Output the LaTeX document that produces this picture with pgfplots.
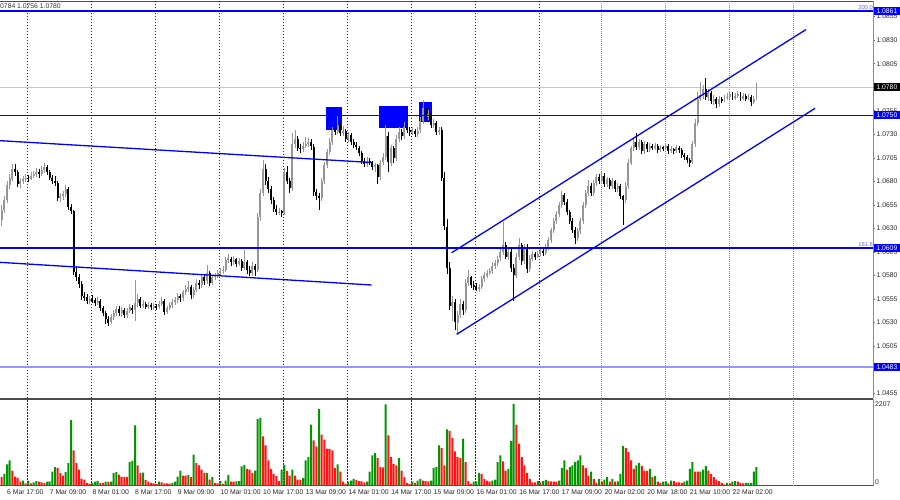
\documentclass[border=0pt]{standalone}
\usepackage{pgfplots}
\pgfplotsset{compat=1.18}
\usepackage{pgfplotstable}
\usepackage{fontspec}
\setmainfont{Liberation Sans}
\definecolor{bullc}{RGB}{150,150,150}
\definecolor{volg}{RGB}{0,150,0}
\definecolor{volr}{RGB}{255,20,20}
\definecolor{lvl}{RGB}{0,0,255}
\definecolor{lvll}{RGB}{150,150,255}
\definecolor{fibo}{RGB}{100,100,255}
\newcommand\tf{\fontsize{6.8}{7.5}\selectfont}

\pgfplotstableread{
i o h l c
0 1.0639 1.0655 1.0632 1.0650
1 1.0650 1.0664 1.0646 1.0660
2 1.0660 1.0680 1.0657 1.0676
3 1.0676 1.0688 1.0672 1.0683
4 1.0683 1.0698 1.0680 1.0693
5 1.0693 1.0699 1.0686 1.0690
6 1.0690 1.0692 1.0674 1.0677
7 1.0677 1.0684 1.0673 1.0680
8 1.0680 1.0686 1.0677 1.0682
9 1.0682 1.0688 1.0679 1.0684
10 1.0684 1.0687 1.0679 1.0683
11 1.0683 1.0690 1.0681 1.0686
12 1.0686 1.0691 1.0683 1.0688
13 1.0688 1.0694 1.0685 1.0690
14 1.0690 1.0693 1.0684 1.0688
15 1.0688 1.0696 1.0686 1.0692
16 1.0692 1.0699 1.0689 1.0695
17 1.0695 1.0697 1.0687 1.0690
18 1.0690 1.0692 1.0681 1.0684
19 1.0684 1.0687 1.0677 1.0680
20 1.0680 1.0686 1.0675 1.0678
21 1.0678 1.0680 1.0659 1.0662
22 1.0662 1.0668 1.0658 1.0664
23 1.0664 1.0670 1.0660 1.0667
24 1.0667 1.0676 1.0663 1.0672
25 1.0672 1.0674 1.0650 1.0653
26 1.0653 1.0656 1.0645 1.0648
27 1.0648 1.0650 1.0580 1.0584
28 1.0584 1.0590 1.0574 1.0578
29 1.0578 1.0582 1.0567 1.0571
30 1.0571 1.0574 1.0554 1.0558
31 1.0558 1.0562 1.0553 1.0557
32 1.0557 1.0560 1.0550 1.0553
33 1.0553 1.0558 1.0550 1.0555
34 1.0555 1.0559 1.0551 1.0554
35 1.0554 1.0556 1.0548 1.0551
36 1.0551 1.0557 1.0549 1.0553
37 1.0553 1.0555 1.0542 1.0545
38 1.0545 1.0547 1.0537 1.0540
39 1.0540 1.0542 1.0528 1.0534
40 1.0534 1.0537 1.0526 1.0530
41 1.0530 1.0539 1.0528 1.0536
42 1.0536 1.0543 1.0533 1.0540
43 1.0540 1.0548 1.0537 1.0544
44 1.0544 1.0547 1.0537 1.0540
45 1.0540 1.0546 1.0536 1.0543
46 1.0543 1.0545 1.0535 1.0538
47 1.0538 1.0545 1.0535 1.0542
48 1.0542 1.0550 1.0540 1.0546
49 1.0546 1.0549 1.0539 1.0543
50 1.0543 1.0575 1.0532 1.0551
51 1.0551 1.0560 1.0546 1.0555
52 1.0555 1.0557 1.0545 1.0548
53 1.0548 1.0554 1.0545 1.0550
54 1.0550 1.0552 1.0544 1.0547
55 1.0547 1.0552 1.0544 1.0549
56 1.0549 1.0551 1.0543 1.0546
57 1.0546 1.0551 1.0543 1.0548
58 1.0548 1.0550 1.0543 1.0546
59 1.0546 1.0553 1.0544 1.0550
60 1.0550 1.0557 1.0548 1.0553
61 1.0553 1.0555 1.0538 1.0541
62 1.0541 1.0548 1.0539 1.0545
63 1.0545 1.0552 1.0543 1.0549
64 1.0549 1.0555 1.0546 1.0552
65 1.0552 1.0557 1.0549 1.0554
66 1.0554 1.0561 1.0551 1.0558
67 1.0558 1.0560 1.0552 1.0556
68 1.0556 1.0565 1.0553 1.0562
69 1.0562 1.0570 1.0559 1.0566
70 1.0566 1.0574 1.0563 1.0568
71 1.0568 1.0570 1.0555 1.0559
72 1.0559 1.0568 1.0556 1.0565
73 1.0565 1.0576 1.0562 1.0572
74 1.0572 1.0575 1.0566 1.0570
75 1.0570 1.0582 1.0567 1.0578
76 1.0578 1.0580 1.0570 1.0574
77 1.0574 1.0591 1.0571 1.0583
78 1.0583 1.0585 1.0569 1.0572
79 1.0572 1.0581 1.0570 1.0578
80 1.0578 1.0583 1.0575 1.0580
81 1.0580 1.0586 1.0577 1.0583
82 1.0583 1.0588 1.0580 1.0585
83 1.0585 1.0590 1.0582 1.0586
84 1.0586 1.0600 1.0584 1.0596
85 1.0596 1.0603 1.0593 1.0598
86 1.0598 1.0600 1.0590 1.0594
87 1.0594 1.0601 1.0591 1.0597
88 1.0597 1.0599 1.0589 1.0592
89 1.0592 1.0599 1.0590 1.0595
90 1.0595 1.0597 1.0585 1.0588
91 1.0588 1.0607 1.0586 1.0594
92 1.0594 1.0596 1.0582 1.0586
93 1.0586 1.0590 1.0579 1.0583
94 1.0583 1.0594 1.0580 1.0590
95 1.0590 1.0592 1.0579 1.0586
96 1.0586 1.0646 1.0584 1.0642
97 1.0642 1.0672 1.0638 1.0668
98 1.0668 1.0703 1.0664 1.0693
99 1.0693 1.0698 1.0676 1.0680
100 1.0680 1.0685 1.0668 1.0672
101 1.0672 1.0675 1.0656 1.0660
102 1.0660 1.0663 1.0647 1.0651
103 1.0651 1.0655 1.0644 1.0647
104 1.0647 1.0652 1.0644 1.0648
105 1.0648 1.0650 1.0642 1.0646
106 1.0646 1.0694 1.0644 1.0690
107 1.0690 1.0696 1.0677 1.0680
108 1.0680 1.0684 1.0668 1.0673
109 1.0673 1.0731 1.0670 1.0720
110 1.0720 1.0735 1.0716 1.0725
111 1.0725 1.0728 1.0712 1.0716
112 1.0716 1.0720 1.0710 1.0714
113 1.0714 1.0722 1.0711 1.0718
114 1.0718 1.0727 1.0715 1.0720
115 1.0720 1.0726 1.0716 1.0722
116 1.0722 1.0725 1.0713 1.0717
117 1.0717 1.0720 1.0665 1.0669
118 1.0669 1.0672 1.0660 1.0664
119 1.0664 1.0668 1.0650 1.0662
120 1.0662 1.0684 1.0659 1.0680
121 1.0680 1.0700 1.0677 1.0697
122 1.0697 1.0714 1.0694 1.0711
123 1.0711 1.0726 1.0708 1.0722
124 1.0722 1.0738 1.0719 1.0735
125 1.0735 1.0741 1.0729 1.0733
126 1.0733 1.0750 1.0730 1.0740
127 1.0740 1.0744 1.0728 1.0731
128 1.0731 1.0739 1.0728 1.0734
129 1.0734 1.0736 1.0722 1.0725
130 1.0725 1.0733 1.0722 1.0729
131 1.0729 1.0731 1.0719 1.0722
132 1.0722 1.0725 1.0716 1.0719
133 1.0719 1.0722 1.0713 1.0716
134 1.0716 1.0718 1.0707 1.0710
135 1.0710 1.0712 1.0699 1.0702
136 1.0702 1.0705 1.0695 1.0698
137 1.0698 1.0706 1.0695 1.0702
138 1.0702 1.0705 1.0697 1.0700
139 1.0700 1.0702 1.0692 1.0695
140 1.0695 1.0700 1.0690 1.0697
141 1.0697 1.0699 1.0677 1.0685
142 1.0685 1.0703 1.0682 1.0700
143 1.0700 1.0710 1.0697 1.0706
144 1.0706 1.0740 1.0703 1.0728
145 1.0728 1.0733 1.0690 1.0700
146 1.0700 1.0719 1.0696 1.0715
147 1.0715 1.0718 1.0700 1.0705
148 1.0705 1.0729 1.0702 1.0725
149 1.0725 1.0738 1.0722 1.0733
150 1.0733 1.0736 1.0724 1.0728
151 1.0728 1.0743 1.0725 1.0738
152 1.0738 1.0742 1.0731 1.0735
153 1.0735 1.0738 1.0728 1.0732
154 1.0732 1.0738 1.0729 1.0734
155 1.0734 1.0736 1.0727 1.0730
156 1.0730 1.0738 1.0727 1.0734
157 1.0734 1.0748 1.0731 1.0744
158 1.0744 1.0766 1.0741 1.0758
159 1.0758 1.0762 1.0745 1.0748
160 1.0748 1.0756 1.0745 1.0752
161 1.0752 1.0754 1.0737 1.0740
162 1.0740 1.0746 1.0737 1.0742
163 1.0742 1.0744 1.0729 1.0732
164 1.0732 1.0738 1.0729 1.0735
165 1.0735 1.0738 1.0680 1.0684
166 1.0684 1.0690 1.0628 1.0632
167 1.0632 1.0640 1.0582 1.0588
168 1.0588 1.0594 1.0543 1.0548
169 1.0548 1.0558 1.0532 1.0552
170 1.0552 1.0555 1.0522 1.0530
171 1.0530 1.0542 1.0517 1.0538
172 1.0538 1.0555 1.0535 1.0550
173 1.0550 1.0553 1.0538 1.0543
174 1.0543 1.0576 1.0540 1.0572
175 1.0572 1.0586 1.0569 1.0578
176 1.0578 1.0580 1.0567 1.0570
177 1.0570 1.0574 1.0565 1.0568
178 1.0568 1.0572 1.0563 1.0566
179 1.0566 1.0571 1.0563 1.0568
180 1.0568 1.0579 1.0566 1.0576
181 1.0576 1.0584 1.0573 1.0580
182 1.0580 1.0586 1.0577 1.0583
183 1.0583 1.0588 1.0580 1.0585
184 1.0585 1.0594 1.0582 1.0590
185 1.0590 1.0596 1.0587 1.0593
186 1.0593 1.0601 1.0590 1.0598
187 1.0598 1.0610 1.0595 1.0605
188 1.0605 1.0637 1.0602 1.0612
189 1.0612 1.0615 1.0597 1.0600
190 1.0600 1.0609 1.0597 1.0605
191 1.0605 1.0608 1.0584 1.0588
192 1.0588 1.0592 1.0553 1.0580
193 1.0580 1.0604 1.0577 1.0600
194 1.0600 1.0620 1.0597 1.0612
195 1.0612 1.0615 1.0591 1.0595
196 1.0595 1.0614 1.0592 1.0610
197 1.0610 1.0613 1.0583 1.0587
198 1.0587 1.0602 1.0584 1.0598
199 1.0598 1.0606 1.0595 1.0603
200 1.0603 1.0605 1.0597 1.0600
201 1.0600 1.0606 1.0598 1.0603
202 1.0603 1.0609 1.0601 1.0606
203 1.0606 1.0608 1.0601 1.0604
204 1.0604 1.0613 1.0602 1.0610
205 1.0610 1.0621 1.0607 1.0618
206 1.0618 1.0631 1.0615 1.0628
207 1.0628 1.0641 1.0625 1.0638
208 1.0638 1.0648 1.0635 1.0645
209 1.0645 1.0658 1.0642 1.0655
210 1.0655 1.0670 1.0652 1.0665
211 1.0665 1.0668 1.0655 1.0658
212 1.0658 1.0661 1.0644 1.0647
213 1.0647 1.0650 1.0635 1.0638
214 1.0638 1.0641 1.0625 1.0628
215 1.0628 1.0631 1.0613 1.0620
216 1.0620 1.0630 1.0617 1.0627
217 1.0627 1.0641 1.0624 1.0638
218 1.0638 1.0658 1.0635 1.0655
219 1.0655 1.0671 1.0652 1.0668
220 1.0668 1.0682 1.0665 1.0675
221 1.0675 1.0678 1.0665 1.0668
222 1.0668 1.0681 1.0665 1.0678
223 1.0678 1.0688 1.0675 1.0685
224 1.0685 1.0688 1.0677 1.0680
225 1.0680 1.0690 1.0677 1.0686
226 1.0686 1.0689 1.0674 1.0677
227 1.0677 1.0685 1.0674 1.0682
228 1.0682 1.0684 1.0672 1.0675
229 1.0675 1.0683 1.0672 1.0680
230 1.0680 1.0682 1.0669 1.0672
231 1.0672 1.0678 1.0669 1.0675
232 1.0675 1.0677 1.0661 1.0664
233 1.0664 1.0666 1.0634 1.0660
234 1.0660 1.0679 1.0657 1.0675
235 1.0675 1.0704 1.0672 1.0700
236 1.0700 1.0718 1.0697 1.0715
237 1.0715 1.0726 1.0712 1.0722
238 1.0722 1.0731 1.0713 1.0716
239 1.0716 1.0725 1.0713 1.0722
240 1.0722 1.0724 1.0709 1.0712
241 1.0712 1.0723 1.0709 1.0720
242 1.0720 1.0722 1.0711 1.0714
243 1.0714 1.0721 1.0711 1.0718
244 1.0718 1.0720 1.0713 1.0716
245 1.0716 1.0721 1.0713 1.0718
246 1.0718 1.0720 1.0710 1.0713
247 1.0713 1.0719 1.0711 1.0716
248 1.0716 1.0718 1.0712 1.0715
249 1.0715 1.0721 1.0713 1.0718
250 1.0718 1.0720 1.0709 1.0712
251 1.0712 1.0717 1.0710 1.0714
252 1.0714 1.0716 1.0709 1.0712
253 1.0712 1.0719 1.0710 1.0716
254 1.0716 1.0718 1.0710 1.0713
255 1.0713 1.0715 1.0705 1.0708
256 1.0708 1.0710 1.0703 1.0706
257 1.0706 1.0708 1.0700 1.0703
258 1.0703 1.0705 1.0695 1.0700
259 1.0700 1.0723 1.0698 1.0720
260 1.0720 1.0746 1.0717 1.0742
261 1.0742 1.0775 1.0739 1.0768
262 1.0768 1.0786 1.0765 1.0772
263 1.0772 1.0782 1.0768 1.0778
264 1.0778 1.0790 1.0766 1.0770
265 1.0770 1.0778 1.0765 1.0774
266 1.0774 1.0776 1.0762 1.0765
267 1.0765 1.0772 1.0761 1.0768
268 1.0768 1.0770 1.0758 1.0762
269 1.0762 1.0771 1.0759 1.0768
270 1.0768 1.0770 1.0763 1.0766
271 1.0766 1.0772 1.0764 1.0769
272 1.0769 1.0774 1.0766 1.0770
273 1.0770 1.0776 1.0768 1.0773
274 1.0773 1.0775 1.0766 1.0769
275 1.0769 1.0774 1.0767 1.0771
276 1.0771 1.0776 1.0769 1.0773
277 1.0773 1.0775 1.0765 1.0768
278 1.0768 1.0774 1.0766 1.0771
279 1.0771 1.0773 1.0765 1.0768
280 1.0768 1.0773 1.0766 1.0770
281 1.0770 1.0772 1.0760 1.0764
282 1.0764 1.0771 1.0762 1.0768
283 1.0768 1.0784 1.0766 1.0780
}\candles

\pgfplotstableread{
i v g
0 226 0
1 318 1
2 571 1
3 680 1
4 408 0
5 245 0
6 209 0
7 109 0
8 136 1
9 63 0
10 136 1
11 63 0
12 90 1
13 118 1
14 110 0
15 90 0
16 70 0
17 110 1
18 112 1
19 380 1
20 498 1
21 471 0
22 335 0
23 272 0
24 362 1
25 607 1
26 1768 1
27 952 0
28 617 0
29 435 0
30 181 0
31 163 0
32 73 0
33 45 0
34 73 1
35 109 1
36 127 1
37 73 0
38 73 0
39 109 1
40 100 0
41 109 1
42 335 1
43 362 1
44 299 0
45 236 0
46 236 0
47 236 0
48 634 1
49 671 1
50 1632 1
51 544 0
52 335 0
53 354 1
54 154 0
55 109 0
56 73 0
57 63 0
58 45 0
59 109 1
60 90 0
61 63 0
62 63 0
63 54 0
64 73 1
65 109 1
66 245 1
67 408 1
68 272 0
69 272 0
70 290 1
71 227 0
72 835 1
73 607 0
74 544 0
75 435 0
76 335 0
77 345 1
78 163 0
79 227 1
80 73 0
81 63 0
82 118 1
83 45 0
84 136 1
85 290 1
86 109 0
87 109 0
88 115 1
89 120 1
90 517 1
91 562 1
92 453 0
93 435 0
94 335 0
95 408 1
96 1796 1
97 1832 1
98 1333 0
99 1088 0
100 680 0
101 453 0
102 318 0
103 254 0
104 127 0
105 435 1
106 562 1
107 399 0
108 272 0
109 435 1
110 272 0
111 163 0
112 160 0
113 200 1
114 680 1
115 770 1
116 1651 1
117 1224 0
118 1061 0
119 2067 1
120 1379 0
121 1243 0
122 998 0
123 990 0
124 952 0
125 471 0
126 571 1
127 381 0
128 109 0
129 45 0
130 109 1
131 136 1
132 181 1
133 154 0
134 118 0
135 115 0
136 90 0
137 109 1
138 381 1
139 816 1
140 880 1
141 753 0
142 499 0
143 495 0
144 2195 1
145 1360 0
146 771 0
147 590 0
148 544 0
149 744 1
150 408 0
151 227 0
152 73 0
153 45 0
154 109 1
155 73 0
156 136 1
157 181 1
158 136 0
159 118 0
160 115 0
161 136 1
162 471 1
163 498 1
164 1088 1
165 1016 0
166 544 0
167 1523 1
168 1478 0
169 1288 0
170 925 0
171 771 0
172 744 0
173 1270 1
174 635 0
175 118 0
176 45 0
177 109 1
178 112 1
179 345 1
180 317 0
181 181 0
182 136 0
183 109 0
184 136 1
185 163 1
186 635 1
187 816 1
188 653 0
189 408 0
190 453 1
191 1206 1
192 2207 1
193 1651 0
194 1134 0
195 771 0
196 544 0
197 345 0
198 181 0
199 90 0
200 88 0
201 118 1
202 90 0
203 118 1
204 154 1
205 118 0
206 115 0
207 109 0
208 105 0
209 136 1
210 471 1
211 680 1
212 435 0
213 499 1
214 544 1
215 635 1
216 680 1
217 816 1
218 544 0
219 471 0
220 272 0
221 381 1
222 181 0
223 73 0
224 181 1
225 109 0
226 163 1
227 227 1
228 109 0
229 181 1
230 109 0
231 112 1
232 317 1
233 1070 1
234 1016 0
235 907 0
236 680 0
237 453 0
238 544 1
239 617 1
240 526 0
241 408 0
242 400 0
243 453 1
244 227 0
245 254 1
246 109 0
247 73 0
248 109 1
249 112 1
250 63 0
251 136 1
252 118 0
253 90 0
254 88 0
255 73 0
256 109 1
257 136 1
258 453 1
259 635 1
260 381 0
261 378 0
262 381 1
263 435 1
264 526 1
265 408 0
266 317 0
267 227 0
268 163 0
269 118 0
270 73 0
271 36 0
272 73 1
273 63 0
274 109 1
275 118 1
276 109 0
277 73 0
278 63 0
279 73 1
280 75 1
281 76 1
282 381 1
283 499 1
}\vols

\pgfplotsset{
  candle/.style={only marks, mark size=0pt, mark options={draw=none, fill=none}, forget plot},
}

\begin{document}
\begin{tikzpicture}
\useasboundingbox (0,0) rectangle (900pt,500pt);
% ---------------- price panel ----------------
\begin{axis}[
  at={(0pt,101.7pt)}, anchor=south west,
  width=873pt, height=396.8pt, scale only axis,
  xmin=-0.625, xmax=326.7, ymin=1.044942, ymax=1.08711,
  clip mode=individual,
  axis x line*=box, axis y line*=right,
  x axis line style={black!70, line width=1pt},
  y axis line style={black!45, line width=0.8pt},
  xtick=\empty,
  ytick={1.0455,1.0480,1.0505,1.0530,1.0555,1.0580,1.0605,1.0630,1.0655,1.0680,1.0705,1.0730,1.0755,1.0780,1.0805,1.0830,1.0855},
  tick align=outside, major tick length=2pt,
  ytick style={black!60, line width=0.5pt},
  /pgf/number format/assume math mode=true,
  yticklabel style={font=\tf, text=black!85, anchor=west, inner sep=0pt, xshift=1.5pt,
    /pgf/number format/fixed, /pgf/number format/fixed zerofill, /pgf/number format/precision=4},
]
% grid
\addplot[ycomb, mark=none, black!85, line width=0.6pt, dash pattern=on 1.5pt off 1.5pt, forget plot]
  coordinates {(9.6,1.1) (33.6,1.1) (57.6,1.1) (81.6,1.1) (105.6,1.1) (129.6,1.1) (153.6,1.1) (177.6,1.1) (201.6,1.1)};
\addplot[ycomb, mark=none, black!45, line width=0.6pt, dash pattern=on 1pt off 1pt, forget plot]
  coordinates {(224.9,1.1) (248.7,1.1) (272.7,1.1) (296.7,1.1)};
% rectangles (background)
\addplot[fill=lvl, draw=none, forget plot] coordinates {(121.6,1.07345) (127.6,1.07345) (127.6,1.07593) (121.6,1.07593)} -- cycle;
\addplot[fill=lvl, draw=none, forget plot] coordinates {(141.6,1.07363) (152.5,1.07363) (152.5,1.07600) (141.6,1.07600)} -- cycle;
\addplot[fill=lvl, draw=none, forget plot] coordinates {(156.6,1.07427) (161.5,1.07427) (161.5,1.07646) (156.6,1.07646)} -- cycle;
% current price line
\addplot[black!22, line width=0.7pt, forget plot] coordinates {(-0.625,1.0780) (326.7,1.0780)};
% candles: wicks
\addplot[candle,
  restrict expr to domain={\thisrow{c}-\thisrow{o}}{0:1},
  error bars/.cd, y dir=both, y explicit, error mark=none,
  error bar style={line width=0.7pt, bullc}]
  table[x=i, y expr={(\thisrow{h}+\thisrow{l})/2}, y error expr={(\thisrow{h}-\thisrow{l})/2}] {\candles};
\addplot[candle,
  restrict expr to domain={\thisrow{c}-\thisrow{o}}{-1:-0.00001},
  error bars/.cd, y dir=both, y explicit, error mark=none,
  error bar style={line width=0.7pt, black}]
  table[x=i, y expr={(\thisrow{h}+\thisrow{l})/2}, y error expr={(\thisrow{h}-\thisrow{l})/2}] {\candles};
% candles: bodies
\addplot[candle,
  restrict expr to domain={\thisrow{c}-\thisrow{o}}{0:1},
  error bars/.cd, y dir=both, y explicit, error mark=none,
  error bar style={line width=1.9pt, bullc}]
  table[x=i, y expr={(\thisrow{o}+\thisrow{c})/2}, y error expr={abs(\thisrow{c}-\thisrow{o})/2}] {\candles};
\addplot[candle,
  restrict expr to domain={\thisrow{c}-\thisrow{o}}{-1:-0.00001},
  error bars/.cd, y dir=both, y explicit, error mark=none,
  error bar style={line width=1.9pt, black}]
  table[x=i, y expr={(\thisrow{o}+\thisrow{c})/2}, y error expr={abs(\thisrow{c}-\thisrow{o})/2}] {\candles};
% horizontal levels
\addplot[lvl, line width=1.4pt, forget plot] coordinates {(-0.625,1.0861) (326.7,1.0861)};
\addplot[lvl, line width=0.8pt, forget plot] coordinates {(-0.625,1.0750) (326.7,1.0750)};
\addplot[lvl, line width=1.4pt, forget plot] coordinates {(-0.625,1.0609) (326.7,1.0609)};
\addplot[lvll, line width=2pt, forget plot] coordinates {(-0.625,1.0483) (326.7,1.0483)};
% trend lines
\addplot[lvl, line width=1.3pt, forget plot] coordinates {(-0.63,1.07232) (138.7,1.0700)};
\addplot[lvl, line width=1.3pt, forget plot] coordinates {(-0.63,1.05939) (138.7,1.05698)};
\addplot[lvl, line width=1.3pt, forget plot] coordinates {(168.7,1.06041) (301.6,1.08413)};
\addplot[lvl, line width=1.3pt, forget plot] coordinates {(170.6,1.05174) (305.0,1.07576)};
% labels on lines
\node[anchor=south east, inner sep=0pt, font=\fontsize{5.8}{6}\selectfont, text=fibo, yshift=1.2pt] at (axis cs:326.7,1.0861) {200.0};
\node[anchor=south east, inner sep=0pt, font=\fontsize{5.8}{6}\selectfont, text=fibo, yshift=1.2pt] at (axis cs:326.7,1.0609) {161.8};
% price tags
\node[anchor=west, fill=lvl, text=white, font=\tf, inner xsep=2.5pt, inner ysep=0pt, minimum height=8pt, xshift=0.8pt] at (axis cs:326.7,1.0861) {1.0861};
\node[anchor=west, fill=black, text=white, font=\tf, inner xsep=2.5pt, inner ysep=0pt, minimum height=8pt, xshift=0.8pt] at (axis cs:326.7,1.0780) {1.0780};
\node[anchor=west, fill=lvl, text=white, font=\tf, inner xsep=2.5pt, inner ysep=0pt, minimum height=8pt, xshift=0.8pt] at (axis cs:326.7,1.0750) {1.0750};
\node[anchor=west, fill=lvl, text=white, font=\tf, inner xsep=2.5pt, inner ysep=0pt, minimum height=8pt, xshift=0.8pt] at (axis cs:326.7,1.0609) {1.0609};
\node[anchor=west, fill=lvl, text=white, font=\tf, inner xsep=2.5pt, inner ysep=0pt, minimum height=8pt, xshift=0.8pt] at (axis cs:326.7,1.0483) {1.0483};
\end{axis}
% ---------------- volume panel ----------------
\begin{axis}[
  at={(0pt,14.4pt)}, anchor=south west,
  width=873pt, height=86.1pt, scale only axis,
  xmin=-0.625, xmax=326.7, ymin=0, ymax=2328.7,
  clip mode=individual,
  axis x line*=box, axis y line*=right,
  x axis line style={black!70, line width=1pt},
  y axis line style={black!45, line width=0.8pt},
  ytick=\empty,
  xtick={2,18,34,50,66,82,98,114,130,146,162,178,194,210,226,242,258,274},
  xticklabels={6 Mar 17:00,7 Mar 09:00,8 Mar 01:00,8 Mar 17:00,9 Mar 09:00,10 Mar 01:00,10 Mar 17:00,13 Mar 09:00,14 Mar 01:00,14 Mar 17:00,15 Mar 09:00,16 Mar 01:00,16 Mar 17:00,17 Mar 09:00,20 Mar 02:00,20 Mar 18:00,21 Mar 10:00,22 Mar 02:00},
  xtick style={draw=none},
  xticklabel style={font=\tf, text=black!85, anchor=west, inner sep=0pt, yshift=-6.5pt},
]
\addplot[ycomb, mark=none, black!85, line width=0.6pt, dash pattern=on 1.5pt off 1.5pt, forget plot]
  coordinates {(9.6,3000) (33.6,3000) (57.6,3000) (81.6,3000) (105.6,3000) (129.6,3000) (153.6,3000) (177.6,3000) (201.6,3000)};
\addplot[ycomb, mark=none, black!45, line width=0.6pt, dash pattern=on 1pt off 1pt, forget plot]
  coordinates {(224.9,3000) (248.7,3000) (272.7,3000) (296.7,3000)};
\addplot[ybar, bar width=2pt, bar shift=0pt, fill=volg, draw=none, forget plot,
  restrict expr to domain={\thisrow{g}}{0.5:1.5}] table[x=i, y=v] {\vols};
\addplot[ybar, bar width=2pt, bar shift=0pt, fill=volr, draw=none, forget plot,
  restrict expr to domain={\thisrow{g}}{-0.5:0.5}] table[x=i, y=v] {\vols};
\node[anchor=west, inner sep=0pt, font=\tf, text=black!85, xshift=2pt] at (axis cs:326.7,2207) {2207};
\node[anchor=west, inner sep=0pt, font=\tf, text=black!85, xshift=2pt] at (axis cs:326.7,105) {0};
\end{axis}
\node[anchor=west, inner sep=0pt, font=\tf, text=black!80] at (0pt,493.7pt) {0784 1.0756 1.0780};
\end{tikzpicture}
\end{document}
